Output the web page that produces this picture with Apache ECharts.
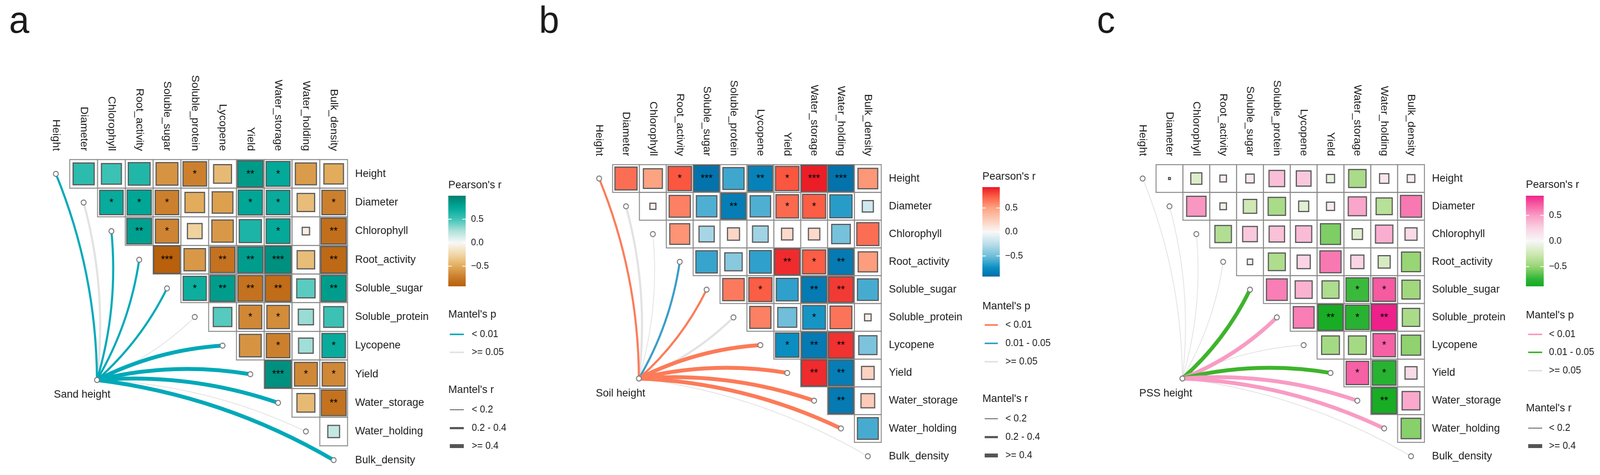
<!DOCTYPE html>
<html>
<head>
<meta charset="utf-8">
<script src="https://cdn.jsdelivr.net/npm/echarts@6/dist/echarts.min.js"></script>
<style>
html,body{margin:0;padding:0;background:#ffffff;overflow:hidden;}
#chart{width:4233px;height:1216px;transform-origin:0 0;}
</style>
</head>
<body>
<div id="chart"></div>
<script>
// ---------------- DATA ----------------
const variables = ['Height','Diameter','Chlorophyll','Root_activity','Soluble_sugar','Soluble_protein','Lycopene','Yield','Water_storage','Water_holding','Bulk_density'];

// Upper-triangle Pearson's r; row i holds columns i+1..10
const sandR = [
  [0.58, 0.52, 0.62, -0.62, -0.72, -0.42, 0.84, 0.74, -0.58, -0.50],
  [0.72, 0.76, -0.72, -0.50, -0.56, 0.76, 0.72, -0.40, -0.72],
  [0.80, -0.70, -0.28, -0.60, 0.64, 0.74, -0.07, -0.82],
  [-0.92, -0.60, -0.80, 0.82, 0.90, -0.40, -0.86],
  [0.70, 0.82, -0.80, -0.84, 0.44, 0.82],
  [0.45, -0.68, -0.66, 0.30, 0.52],
  [-0.62, -0.72, 0.28, 0.72],
  [0.90, -0.68, -0.68],
  [-0.42, -0.80],
  [0.18]
];
const sandSig = [
  ['', '', '', '', '*', '', '**', '*', '', ''],
  ['*', '*', '*', '', '', '*', '*', '', '*'],
  ['**', '*', '', '', '', '*', '', '**'],
  ['***', '', '**', '**', '***', '', '**'],
  ['*', '**', '**', '**', '', '**'],
  ['', '*', '*', '', ''],
  ['', '*', '', '*'],
  ['***', '*', '*'],
  ['', '**'],
  ['']
];
const sandMantelP = ['<0.01','>=0.05','<0.01','<0.01','<0.01','>=0.05','<0.01','<0.01','<0.01','>=0.05','<0.01'];
const sandMantelR = ['0.2-0.4','0.2-0.4','0.2-0.4','0.2-0.4','0.2-0.4','<0.2','>=0.4','>=0.4','>=0.4','<0.2','>=0.4'];

const soilR = [
  [0.68, 0.50, 0.76, -0.90, -0.62, -0.82, 0.76, 0.92, -0.90, 0.54],
  [0.05, 0.62, -0.58, -0.84, -0.58, 0.70, 0.74, -0.68, -0.17],
  [0.55, -0.32, 0.20, -0.34, 0.18, 0.18, -0.48, 0.68],
  [-0.64, -0.42, -0.66, 0.88, 0.74, -0.86, 0.52],
  [0.64, 0.74, -0.66, -0.86, 0.84, -0.60],
  [0.62, -0.50, -0.72, 0.66, 0.06],
  [-0.76, -0.86, 0.86, -0.46],
  [0.88, -0.84, 0.22],
  [-0.86, 0.26],
  [-0.60]
];
const soilSig = [
  ['', '', '*', '***', '', '**', '*', '***', '***', ''],
  ['', '', '', '**', '', '*', '*', '', ''],
  ['', '', '', '', '', '', '', ''],
  ['', '', '', '**', '*', '**', ''],
  ['', '*', '', '**', '**', ''],
  ['', '', '*', '', ''],
  ['*', '**', '**', ''],
  ['**', '**', ''],
  ['**', ''],
  ['']
];
const soilMantelP = ['<0.01','>=0.05','>=0.05','0.01-0.05','<0.01','>=0.05','<0.01','<0.01','<0.01','<0.01','>=0.05'];
const soilMantelR = ['0.2-0.4','0.2-0.4','<0.2','0.2-0.4','0.2-0.4','0.2-0.4','>=0.4','>=0.4','>=0.4','>=0.4','<0.2'];

const pssR = [
  [0.005, -0.17, 0.06, 0.10, 0.34, 0.30, -0.09, -0.42, 0.12, 0.08],
  [0.52, -0.06, -0.25, -0.42, -0.14, 0.09, 0.46, -0.36, 0.62],
  [-0.38, 0.30, 0.33, 0.36, -0.56, -0.15, 0.42, 0.20],
  [0.04, -0.40, 0.24, 0.62, 0.24, -0.20, -0.50],
  [0.60, 0.40, -0.40, -0.72, 0.72, -0.46],
  [0.60, -0.86, -0.78, 0.90, -0.42],
  [-0.44, -0.44, 0.70, -0.52],
  [0.70, -0.78, 0.20],
  [-0.86, 0.44],
  [-0.54]
];
const pssSig = [
  ['', '', '', '', '', '', '', '', '', ''],
  ['', '', '', '', '', '', '', '', ''],
  ['', '', '', '', '', '', '', ''],
  ['', '', '', '', '', '', ''],
  ['', '', '', '*', '*', ''],
  ['', '**', '*', '**', ''],
  ['', '', '*', ''],
  ['*', '*', ''],
  ['**', ''],
  ['']
];
const pssMantelP = ['>=0.05','>=0.05','>=0.05','>=0.05','0.01-0.05','<0.01','>=0.05','0.01-0.05','<0.01','<0.01','>=0.05'];
const pssMantelR = ['<0.2','<0.2','<0.2','<0.2','>=0.4','>=0.4','<0.2','>=0.4','>=0.4','>=0.4','<0.2'];

const sandBarRange = [-0.93, 1.0];
const soilBarRange = [-0.93, 0.935];
const pssBarRange = [-0.885, 0.885];
const colorbarTicks = [-0.5, 0, 0.5];

const sandPKeys = ['<0.01', '>=0.05'];
const sandPLabels = ['< 0.01', '>= 0.05'];
const soilPKeys = ['<0.01', '0.01-0.05', '>=0.05'];
const soilPLabels = ['< 0.01', '0.01 - 0.05', '>= 0.05'];
const pssPKeys = ['<0.01', '0.01-0.05', '>=0.05'];
const pssPLabels = ['< 0.01', '0.01 - 0.05', '>= 0.05'];
const sandRKeys = ['<0.2', '0.2-0.4', '>=0.4'];
const sandRLabels = ['< 0.2', '0.2 - 0.4', '>= 0.4'];
const soilRKeys = ['<0.2', '0.2-0.4', '>=0.4'];
const soilRLabels = ['< 0.2', '0.2 - 0.4', '>= 0.4'];
const pssRKeys = ['<0.2', '>=0.4'];
const pssRLabels = ['< 0.2', '>= 0.4'];

// ---------------- STYLE / LAYOUT ----------------
const DESIGN_W = 4233, DESIGN_H = 1216;
const FONT = "'Liberation Sans', Arial, Helvetica, sans-serif";
const TXT = '#1a1a1a';
const sandColors = ['#B05400','#C97A27','#E2AC5C','#F2D7A8','#F8F8F8','#AEE2DB','#40C4B7','#00A898','#00806F'];
const soilColors = ['#00609E','#0A8FC2','#70BEDA','#BBDFEA','#F8F8F8','#FDCDB9','#FCA382','#FB5A42','#E3001B'];
const pssColors  = ['#00A010','#2DB535','#98D574','#CFE8B5','#F7F7F7','#FAD3E3','#FA9CC5','#F5519C','#E9007E'];
const R_WIDTH = {'<0.2': 2, '0.2-0.4': 5.5, '>=0.4': 10};
const NODE_POS = [1.48, 7.2];   // hub node position, in cell units from the first cell centre
const CURV = 0.1;

const panels = [
  { letter:'a', hub:'Sand height', r:sandR, sig:sandSig, mp:sandMantelP, mr:sandMantelR, colors:sandColors,
    linkColors:{'<0.01':'#00A9B8','>=0.05':'#E2E2E2'}, barRange:sandBarRange,
    pKeys:sandPKeys, pLabels:sandPLabels, rKeys:sandRKeys, rLabels:sandRLabels,
    L:{ letterX:24, grid:[111, 408.5, 808.5, 806], bar:[1186, 501, 46, 232], lx:1186, pearsonY:474,
        pTitleY:805, pY:[856, 902], rTitleY:998, rY:[1049, 1096, 1142], sx:[1190, 1227], tx:1248 } },
  { letter:'b', hub:'Soil height', r:soilR, sig:soilSig, mp:soilMantelP, mr:soilMantelR, colors:soilColors,
    linkColors:{'<0.01':'#FC7B58','0.01-0.05':'#3A9DC8','>=0.05':'#E2E2E2'}, barRange:soilBarRange,
    pKeys:soilPKeys, pLabels:soilPLabels, rKeys:soilRKeys, rLabels:soilRLabels,
    L:{ letterX:1426, grid:[1549.5, 421.5, 782, 782], bar:[2599, 479, 46, 229], lx:2599, pearsonY:452,
        pTitleY:784, pY:[832, 879, 926], rTitleY:1021, rY:[1072, 1119, 1166], sx:[2605, 2640], tx:2660 } },
  { letter:'c', hub:'PSS height', r:pssR, sig:pssSig, mp:pssMantelP, mr:pssMantelR, colors:pssColors,
    linkColors:{'<0.01':'#F89CC4','0.01-0.05':'#3EB42C','>=0.05':'#E2E2E2'}, barRange:pssBarRange,
    pKeys:pssPKeys, pLabels:pssPLabels, rKeys:pssRKeys, rLabels:pssRLabels,
    L:{ letterX:2902, grid:[2987.5, 421.5, 781, 782], bar:[4037, 501, 47, 232], lx:4037, pearsonY:473,
        pTitleY:807, pY:[856, 902, 949], rTitleY:1045, rY:[1096, 1142], sx:[4043, 4080], tx:4098 } }
];

// The viewport may be narrower than the design width: squeeze horizontally to fit.
(function fitViewport(){
  const sx = Math.min(1, (window.innerWidth || DESIGN_W) / DESIGN_W);
  const sy = Math.min(1, (window.innerHeight || DESIGN_H) / DESIGN_H);
  if (sx < 1 || sy < 1) document.getElementById('chart').style.transform = 'scale(' + sx + ',' + sy + ')';
})();

// ---------------- helpers ----------------
function hexToRgb(h){ return [parseInt(h.slice(1,3),16), parseInt(h.slice(3,5),16), parseInt(h.slice(5,7),16)]; }
function lerpColor(v, colors){
  const n = colors.length;
  let t = (v + 1) / 2 * (n - 1);
  t = Math.max(0, Math.min(n - 1, t));
  const i = Math.min(n - 2, Math.floor(t)), f = t - i;
  const a = hexToRgb(colors[i]), b = hexToRgb(colors[i+1]);
  const c = a.map((x, k) => Math.round(x + (b[k] - x) * f));
  return 'rgb(' + c.join(',') + ')';
}
function fmtTick(v){ return (v < 0 ? '\u2212' : '') + Math.abs(v).toFixed(1); }

const grids = [], xAxes = [], yAxes = [], series = [], visualMaps = [], graphics = [];

panels.forEach((P) => {
  const L = P.L;
  // ----- correlation matrix grid -----
  const gi = grids.length;
  grids.push({ left:L.grid[0], top:L.grid[1], width:L.grid[2], height:L.grid[3] });
  xAxes.push({ gridIndex:gi, type:'category', data:variables, position:'top',
    axisLine:{show:false}, axisTick:{show:false}, splitLine:{show:false},
    axisLabel:{ interval:0, rotate:90, margin:22, fontSize:28, color:TXT, fontFamily:FONT } });
  yAxes.push({ gridIndex:gi, type:'category', data:variables, inverse:true, position:'right',
    axisLine:{show:false}, axisTick:{show:false}, splitLine:{show:false},
    axisLabel:{ interval:0, margin:20, fontSize:28, color:TXT, fontFamily:FONT } });

  // ----- Mantel links (non-significant drawn first) -----
  const order = variables.map((_, k) => k).sort((a, b) =>
    (P.mp[a] === '>=0.05' ? 0 : 1) - (P.mp[b] === '>=0.05' ? 0 : 1) || a - b);
  series.push({
    type:'custom', coordinateSystem:'cartesian2d', xAxisIndex:gi, yAxisIndex:gi, silent:true, z:1,
    data: order.map(k => [k, k]),
    renderItem: function(params, api){
      const k = api.value(0);
      const o = api.coord([0, 0]); const s = api.size([1, 1]);
      const x0 = o[0] + NODE_POS[0] * s[0], y0 = o[1] + NODE_POS[1] * s[1];
      const t = api.coord([k, k]);
      const dx = t[0] - x0, dy = t[1] - y0;
      const sign = k <= 5 ? 1 : -1;
      const cpx = (x0 + t[0]) / 2 + sign * CURV * (-dy);
      const cpy = (y0 + t[1]) / 2 + sign * CURV * dx;
      return { type:'bezierCurve',
        shape:{ x1:x0, y1:y0, x2:t[0], y2:t[1], cpx1:cpx, cpy1:cpy },
        style:{ stroke:P.linkColors[P.mp[k]], lineWidth:R_WIDTH[P.mr[k]], fill:null, lineCap:'butt' } };
    }
  });

  // ----- nodes (diagonal + hub) -----
  const nodeData = variables.map((_, k) => [k, k]).concat([[0, 0]]);
  series.push({
    type:'custom', coordinateSystem:'cartesian2d', xAxisIndex:gi, yAxisIndex:gi, silent:true, z:2,
    data: nodeData,
    renderItem: function(params, api){
      let cx, cy;
      const hub = params.dataIndex === variables.length;
      if (hub) {
        const o = api.coord([0, 0]); const s = api.size([1, 1]);
        cx = o[0] + NODE_POS[0] * s[0]; cy = o[1] + NODE_POS[1] * s[1];
      } else {
        const c = api.coord([api.value(0), api.value(1)]); cx = c[0]; cy = c[1];
      }
      const children = [{ type:'circle', shape:{cx:cx, cy:cy, r:6.5},
        style:{ fill:'#ffffff', stroke:'#7a7a7a', lineWidth:2.5 } }];
      if (hub) children.push({ type:'text', x:cx - 114, y:cy + 38,
        style:{ text:P.hub, align:'left', verticalAlign:'middle', fontSize:28, fontFamily:FONT, fill:TXT } });
      return { type:'group', children:children };
    }
  });

  // ----- correlation squares -----
  const cellData = [], cellSig = [];
  P.r.forEach((row, i) => row.forEach((v, jj) => {
    cellData.push([i + jj + 1, i, v]);
    cellSig.push(P.sig[i][jj]);
  }));
  const cellSeriesIndex = series.length;
  series.push({
    type:'custom', coordinateSystem:'cartesian2d', xAxisIndex:gi, yAxisIndex:gi, silent:true, z:3,
    data: cellData,
    renderItem: function(params, api){
      const c = api.coord([api.value(0), api.value(1)]);
      const s = api.size([1, 1]);
      const w = s[0], h = s[1];
      const side = Math.min(w, h) * Math.sqrt(Math.abs(api.value(2)));
      const star = cellSig[params.dataIndex];
      const children = [
        { type:'rect', shape:{ x:c[0] - w/2, y:c[1] - h/2, width:w, height:h },
          style:{ fill:null, stroke:'#8c8c8c', lineWidth:2.5 } },
        { type:'rect', shape:{ x:c[0] - side/2, y:c[1] - side/2, width:side, height:side },
          style:{ fill:api.visual('color'), stroke:'#5a5a5a', lineWidth:3 } }
      ];
      if (star) children.push({ type:'text', x:c[0], y:c[1] + 1,
        style:{ text:star, align:'center', verticalAlign:'middle', fontSize:27, fontFamily:FONT, fill:'#000000' } });
      return { type:'group', children:children };
    }
  });
  visualMaps.push({ show:false, type:'continuous', seriesIndex:cellSeriesIndex, dimension:2,
    min:-1, max:1, inRange:{ color:P.colors } });

  // ----- colour bar (own grid + value axis) -----
  const bi = grids.length;
  grids.push({ left:L.bar[0], top:L.bar[1], width:L.bar[2], height:L.bar[3] });
  xAxes.push({ gridIndex:bi, type:'value', min:0, max:1, show:false });
  yAxes.push({ gridIndex:bi, type:'value', min:P.barRange[0], max:P.barRange[1], position:'right',
    axisLine:{show:false}, axisTick:{show:false}, splitLine:{show:false},
    axisLabel:{ customValues:colorbarTicks, formatter:fmtTick, margin:14, fontSize:24, color:TXT, fontFamily:FONT } });
  series.push({
    type:'custom', coordinateSystem:'cartesian2d', xAxisIndex:bi, yAxisIndex:bi, silent:true, z:2,
    data:[[0, 0]],
    renderItem: function(params, api){
      const lo = P.barRange[0], hi = P.barRange[1];
      const p1 = api.coord([0, hi]), p2 = api.coord([1, lo]);
      const N = 40, stops = [];
      for (let i = 0; i <= N; i++) {
        const v = hi - (hi - lo) * i / N;
        stops.push({ offset:i / N, color:lerpColor(v, P.colors) });
      }
      const children = [{ type:'rect', shape:{ x:p1[0], y:p1[1], width:p2[0]-p1[0], height:p2[1]-p1[1] },
        style:{ fill:new echarts.graphic.LinearGradient(0, 0, 0, 1, stops) } }];
      colorbarTicks.forEach(v => {
        const y = api.coord([0, v])[1];
        children.push({ type:'line', shape:{ x1:p1[0], y1:y, x2:p1[0] + 9, y2:y }, style:{ stroke:'#ffffff', lineWidth:2 } });
        children.push({ type:'line', shape:{ x1:p2[0] - 9, y1:y, x2:p2[0], y2:y }, style:{ stroke:'#ffffff', lineWidth:2 } });
      });
      return { type:'group', children:children };
    }
  });

  // ----- legends & panel letter -----
  const txt = (text, x, y, size) => ({ type:'text', x:x, y:y,
    style:{ text:text, align:'left', verticalAlign:'middle', fontSize:size, fontFamily:FONT, fill:TXT } });
  graphics.push(txt(P.letter, L.letterX, 58, 96));
  graphics.push(txt("Pearson's r", L.lx, L.pearsonY, 28));
  graphics.push(txt("Mantel's p", L.lx, L.pTitleY, 28));
  P.pKeys.forEach((key, i) => {
    graphics.push({ type:'line', shape:{ x1:L.sx[0], y1:L.pY[i], x2:L.sx[1], y2:L.pY[i] },
      style:{ stroke:P.linkColors[key], lineWidth:4 } });
    graphics.push(txt(P.pLabels[i], L.tx, L.pY[i], 25));
  });
  graphics.push(txt("Mantel's r", L.lx, L.rTitleY, 28));
  P.rKeys.forEach((key, i) => {
    graphics.push({ type:'line', shape:{ x1:L.sx[0], y1:L.rY[i], x2:L.sx[1], y2:L.rY[i] },
      style:{ stroke:'#555555', lineWidth:R_WIDTH[key] } });
    graphics.push(txt(P.rLabels[i], L.tx, L.rY[i], 25));
  });
});

const chart = echarts.init(document.getElementById('chart'), null, { renderer:'canvas', width:DESIGN_W, height:DESIGN_H });
chart.setOption({
  backgroundColor:'#ffffff',
  animation:false,
  grid:grids, xAxis:xAxes, yAxis:yAxes,
  visualMap:visualMaps, series:series,
  graphic:{ elements:graphics }
});
</script>
</body>
</html>
